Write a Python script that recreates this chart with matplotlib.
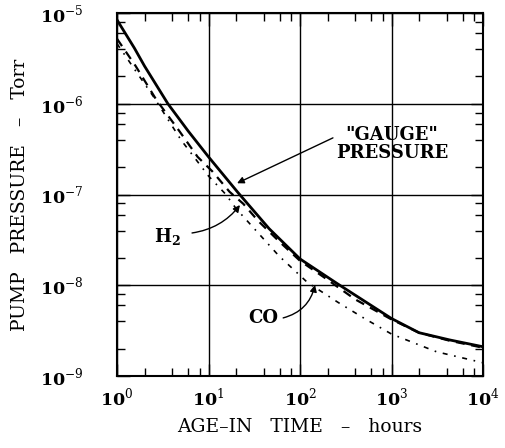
import math
import matplotlib
matplotlib.use("Agg")
import matplotlib.pyplot as plt
from matplotlib.ticker import LogLocator, FixedLocator, FuncFormatter, NullFormatter

plt.rcParams['font.family'] = ['DejaVu Serif']
plt.rcParams['mathtext.fontset'] = 'custom'
plt.rcParams['mathtext.rm'] = 'DejaVu Serif'
plt.rcParams['mathtext.bf'] = 'DejaVu Serif:bold'

# Data
x_ticks = [1, 10, 100, 1000, 10000]
y_ticks = [1e-9, 1e-8, 1e-7, 1e-6, 1e-5]

gauge_t = [1, 1.55, 2, 3.6, 6, 10, 21, 46, 100, 260, 1000, 2000, 4300, 10000]
gauge_p = [8.4e-6, 4.1e-6, 2.6e-6, 1.0e-6, 5.0e-7, 2.6e-7, 1.05e-7, 4.2e-8,
           1.95e-8, 1.03e-8, 4.3e-9, 3.0e-9, 2.5e-9, 2.1e-9]

h2_t = [1, 1.6, 2.7, 4.8, 7.6, 11, 17, 24, 35, 60, 100, 200, 400, 1000, 2000, 4300, 10000]
h2_p = [5.2e-6, 2.6e-6, 1.1e-6, 5.0e-7, 2.6e-7, 1.8e-7, 1.07e-7, 7.9e-8, 5.1e-8,
        3.0e-8, 1.86e-8, 1.15e-8, 7.0e-9, 4.2e-9, 3.0e-9, 2.45e-9, 2.05e-9]

co_t = [1, 1.6, 2.5, 5, 10, 15.5, 20, 59, 121, 259, 507, 1000, 3100, 10000]
co_p = [4.6e-6, 2.3e-6, 1.2e-6, 4.0e-7, 1.6e-7, 1.0e-7, 7.0e-8, 2.1e-8, 1.07e-8,
        6.5e-9, 4.3e-9, 2.9e-9, 1.85e-9, 1.4e-9]

fig = plt.figure(figsize=(5.05, 4.48), dpi=100)
ax = fig.add_axes([117/505, 1-376/448, 366/505, 363/448])

ax.plot(gauge_t, gauge_p, color='black', lw=2.0, solid_capstyle='butt')
ax.plot(h2_t, h2_p, color='black', lw=1.6, linestyle=(0, (4, 3)))
ax.plot(co_t, co_p, color='black', lw=1.2, linestyle=(0, (3, 4, 1, 4)))

ax.set_xscale('log')
ax.set_yscale('log')
ax.set_xlim(x_ticks[0], x_ticks[-1])
ax.set_ylim(y_ticks[0], y_ticks[-1])

ax.xaxis.set_major_locator(FixedLocator(x_ticks))
ax.yaxis.set_major_locator(FixedLocator(y_ticks))
ax.xaxis.set_minor_locator(LogLocator(base=10, subs=(2, 4, 6, 8), numticks=10))
ax.yaxis.set_minor_locator(LogLocator(base=10, subs=(2, 4, 6, 8), numticks=10))

def fmt(v, pos):
    e = int(round(math.log10(v)))
    if e < 0:
        return r'$\mathbf{10}^{-%d}$' % (-e)
    return r'$\mathbf{10}^{%d}$' % e

ax.xaxis.set_major_formatter(FuncFormatter(fmt))
ax.yaxis.set_major_formatter(FuncFormatter(fmt))
ax.xaxis.set_minor_formatter(NullFormatter())
ax.yaxis.set_minor_formatter(NullFormatter())

ax.tick_params(which='both', direction='in', top=True, right=True, colors='black')
ax.tick_params(which='major', length=9, width=1.0, labelsize=12.5)
ax.tick_params(which='minor', length=6, width=1.0)
ax.tick_params(axis='x', which='major', pad=8)
ax.tick_params(axis='y', which='major', pad=24)

ax.grid(True, which='major', color='black', lw=1.0)
for s in ax.spines.values():
    s.set_linewidth(1.5)
    s.set_color('black')

ax.set_xlabel('AGE\u2013IN   TIME   \u2013   hours', fontsize=13.5, labelpad=6)
ax.set_ylabel('PUMP   PRESSURE   \u2013   Torr', fontsize=13.5, labelpad=8)

# Annotations
ax.annotate('', xy=(0.328, 0.531), xycoords='axes fraction',
            xytext=(0.590, 0.656), textcoords='axes fraction',
            arrowprops=dict(arrowstyle='-|>', color='black', lw=1.0,
                            mutation_scale=10, shrinkA=0, shrinkB=0))
ax.text(0.751, 0.639, '"GAUGE"\nPRESSURE', transform=ax.transAxes,
        ha='center', va='center', fontsize=13, fontweight='bold',
        linespacing=1.05)

ax.text(0.139, 0.383, r'H$_\mathbf{2}$', transform=ax.transAxes,
        ha='center', va='center', fontsize=13, fontweight='bold')
ax.annotate('', xy=(0.336, 0.471), xycoords='axes fraction',
            xytext=(0.205, 0.394), textcoords='axes fraction',
            arrowprops=dict(arrowstyle='-|>', color='black', lw=1.0,
                            mutation_scale=10, shrinkA=0, shrinkB=0,
                            connectionstyle='arc3,rad=0.2'))

ax.text(0.399, 0.160, 'CO', transform=ax.transAxes,
        ha='center', va='center', fontsize=13, fontweight='bold')
ax.annotate('', xy=(0.541, 0.251), xycoords='axes fraction',
            xytext=(0.454, 0.160), textcoords='axes fraction',
            arrowprops=dict(arrowstyle='-|>', color='black', lw=1.0,
                            mutation_scale=10, shrinkA=0, shrinkB=0,
                            connectionstyle='arc3,rad=0.3'))

fig.savefig('out.png', dpi=100)
